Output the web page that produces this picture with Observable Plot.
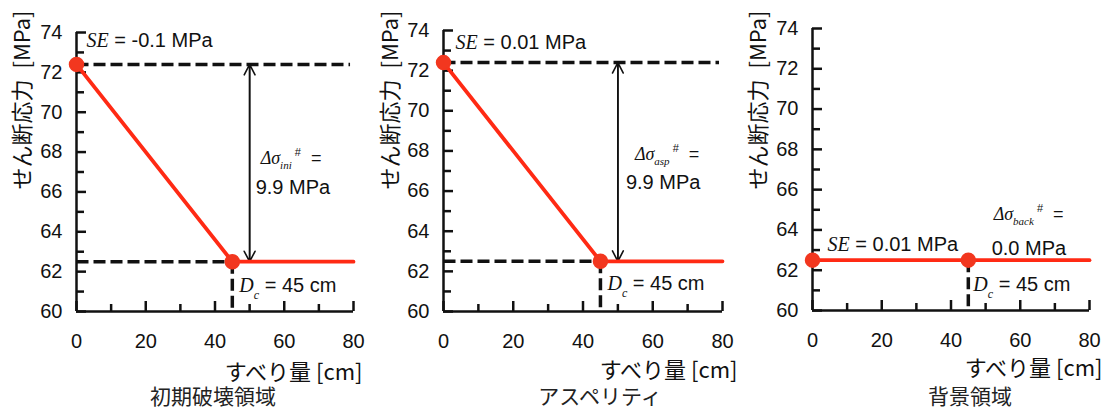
<!DOCTYPE html>
<html><head><meta charset="utf-8">
<script src="https://cdn.jsdelivr.net/npm/d3@7"></script>
<script src="https://cdn.jsdelivr.net/npm/@observablehq/plot@0.6"></script>
<style>
body{margin:0;background:#fff;}
#row{display:flex;width:1113px;height:413px;}
.panel{position:relative;}
.cap{font-family:"Noto Sans CJK JP",sans-serif;font-size:21px;line-height:30px;text-align:center;color:#222;}
</style></head><body><div id="row"></div>
<script>
// ---- data ----
const slip = [0, 45, 80];                 // すべり量 [cm]
const stressIni  = [72.4, 62.5, 62.5];    // 初期破壊領域
const stressAsp  = [72.4, 62.5, 62.5];    // アスペリティ
const stressBack = [62.5, 62.5, 62.5];    // 背景領域
const panelNames = ["初期破壊領域", "アスペリティ", "背景領域"];
const seValues   = ["-0.1", "0.01", "0.01"];
const dropValues = ["9.9", "9.9", "0.0"];
const subNames   = ["ini", "asp", "back"];
const DcValue = 45;
const arrowSlip = 50;
const yMajor = [60, 62, 64, 66, 68, 70, 72, 74];
const yMinor = [61, 63, 65, 67, 69, 71, 73];
const xMajor = [0, 20, 40, 60, 80];
const xMinor = [10, 30, 50, 70];
const xLabel = "すべり量 [cm]";
const yLabel = "せん断応力\u2002[MPa]";

// ---- layout (pixels) ----
const H = 380;
const layout = [
  {w:370, ml:76, mr:17, mt:32, mb:69, capPad:56,
   se:{y:73.6, dx:10}, dl:{y:67.7, dx:11}, dv:{y:66.2, dx:6}, dc:{y:61.3, dx:7},
   xl:{dx:9, dy:61}, yl:{dx:-54, dy:-22}},
  {w:370, ml:73, mr:18, mt:30, mb:69, capPad:90,
   se:{y:73.4, dx:12}, dl:{y:67.85, dx:17}, dv:{y:66.4, dx:8}, dc:{y:61.4, dx:7},
   xl:{dx:15, dy:59}, yl:{dx:-53, dy:-20}},
  {w:373, ml:72, mr:24, mt:28, mb:70, capPad:87,
   se:{y:63.25, dx:15}, dl:{y:64.8, dx:8}, dv:{y:63.05, dx:6}, dc:{y:61.3, dx:5},
   xl:{dx:13, dy:58}, yl:{dx:-54, dy:-18}}
];
const series = [stressIni, stressAsp, stressBack];
const RED = "#ff2a14", DOT = "#f2371f", INK = "#111";
const SANS = "'Liberation Sans', Arial, sans-serif";
const SERIF = "'Liberation Serif', 'Times New Roman', serif";
const CJK = "'Noto Sans CJK JP', sans-serif";

function rich(svg) {
  d3.select(svg).selectAll("text").each(function () {
    const el = d3.select(this);
    const t = this.textContent;
    let m;
    if ((m = t.match(/^SE (.*)$/))) {
      el.text(null);
      el.append("tspan").attr("font-family", SERIF).attr("font-style", "italic").text("SE");
      el.append("tspan").text(" " + m[1]);
    } else if ((m = t.match(/^Δσ_(\w+)\^# =$/))) {
      el.text(null);
      el.append("tspan").attr("font-family", SERIF).attr("font-style", "italic").text("Δσ");
      el.append("tspan").attr("font-family", SERIF).attr("font-style", "italic").attr("font-size", 11).attr("dy", 5).text(m[1]);
      el.append("tspan").attr("font-size", 11).attr("dy", -13).text(" #");
      el.append("tspan").attr("dy", 8).text("  =");
    } else if ((m = t.match(/^D_c (.*)$/))) {
      el.text(null);
      el.append("tspan").attr("font-family", SERIF).attr("font-style", "italic").text("D");
      el.append("tspan").attr("font-family", SERIF).attr("font-style", "italic").attr("font-size", 12).attr("dy", 7).text("c");
      el.append("tspan").attr("dy", -7).text(" " + m[1]);
    }
  });
}

const row = document.getElementById("row");
series.forEach((stress, i) => {
  const L = layout[i];
  const FW = L.w - L.ml - L.mr, FH = H - L.mt - L.mb;
  const data = slip.map((x, j) => ({x, y: stress[j]}));
  const peak = stress[0], resid = stress[1];
  const hasDrop = peak !== resid;
  const dash = {stroke: INK, strokeWidth: 3.5, strokeDasharray: "12,5"};
  const tick = {stroke: INK, strokeWidth: 2.5};
  const marks = [
    // inward ticks: rules anchored on the axis lines, shortened with insets
    Plot.ruleY(yMajor, {...tick, insetRight: FW - 10}),
    Plot.ruleY(yMinor, {...tick, insetRight: FW - 8}),
    Plot.ruleX(xMajor, {...tick, insetTop: FH - 10}),
    Plot.ruleX(xMinor, {...tick, insetTop: FH - 7}),
    // tick labels
    Plot.axisY(yMajor, {tickSize: 0, tickPadding: 14, label: null, fontSize: 20}),
    Plot.axisX(xMajor, {tickSize: 0, tickPadding: 22, label: null, fontSize: 20}),
    // axis lines
    Plot.ruleX([0], {stroke: INK, strokeWidth: 2.5}),
    Plot.ruleY([60], {stroke: INK, strokeWidth: 2.5}),
    // vertical dashed at Dc
    Plot.link([{x: DcValue, y1: resid, y2: 60}], {x1: "x", x2: "x", y1: "y1", y2: "y2", ...dash}),
  ];
  if (hasDrop) {
    const arr = {stroke: INK, strokeWidth: 1.6, headLength: 11, headAngle: 55};
    marks.push(
      Plot.link([{x1: 0, x2: 79, y: peak}], {x1: "x1", x2: "x2", y1: "y", y2: "y", ...dash}),
      Plot.link([{x1: 0, x2: DcValue, y: resid}], {x1: "x1", x2: "x2", y1: "y", y2: "y", ...dash}),
      Plot.arrow([{x: arrowSlip, a: resid, b: peak}], {x1: "x", x2: "x", y1: "a", y2: "b", ...arr}),
      Plot.arrow([{x: arrowSlip, a: peak, b: resid}], {x1: "x", x2: "x", y1: "a", y2: "b", ...arr})
    );
  }
  marks.push(
    Plot.line(data, {x: "x", y: "y", stroke: RED, strokeWidth: 3.8}),
    Plot.dot(data.slice(0, 2), {x: "x", y: "y", r: 7, fill: DOT, stroke: DOT}),
    // annotations
    Plot.text([`SE = ${seValues[i]} MPa`], {x: 0, y: L.se.y, dx: L.se.dx, textAnchor: "start", fontSize: 20, fill: INK}),
    Plot.text([`Δσ_${subNames[i]}^# =`], {x: arrowSlip, y: L.dl.y, dx: L.dl.dx, textAnchor: "start", fontSize: 18, fill: INK}),
    Plot.text([`${dropValues[i]} MPa`], {x: arrowSlip, y: L.dv.y, dx: L.dv.dx, textAnchor: "start", fontSize: 20, fill: INK}),
    Plot.text([`D_c = ${DcValue} cm`], {x: DcValue, y: L.dc.y, dx: L.dc.dx, textAnchor: "start", fontSize: 20, fill: INK}),
    // axis titles
    Plot.text([xLabel], {frameAnchor: "bottom-right", lineAnchor: "middle", textAnchor: "end", dx: L.xl.dx, dy: L.xl.dy, fontSize: 22, fontFamily: CJK, fill: INK}),
    Plot.text([yLabel], {frameAnchor: "top-left", lineAnchor: "middle", textAnchor: "end", rotate: -90, dx: L.yl.dx, dy: L.yl.dy, fontSize: 22, fontFamily: CJK, fill: INK})
  );
  const svg = Plot.plot({
    width: L.w, height: H,
    marginLeft: L.ml, marginRight: L.mr, marginTop: L.mt, marginBottom: L.mb,
    x: {domain: [0, 80], label: null},
    y: {domain: [60, 74], label: null},
    style: {fontFamily: SANS, fontSize: "20px", color: INK, background: "transparent", overflow: "visible"},
    marks
  });
  rich(svg);
  const div = document.createElement("div");
  div.className = "panel";
  div.style.width = L.w + "px";
  div.appendChild(svg);
  const cap = document.createElement("div");
  cap.className = "cap";
  cap.style.paddingLeft = L.capPad + "px";
  cap.textContent = panelNames[i];
  div.appendChild(cap);
  row.appendChild(div);
});
</script></body></html>
